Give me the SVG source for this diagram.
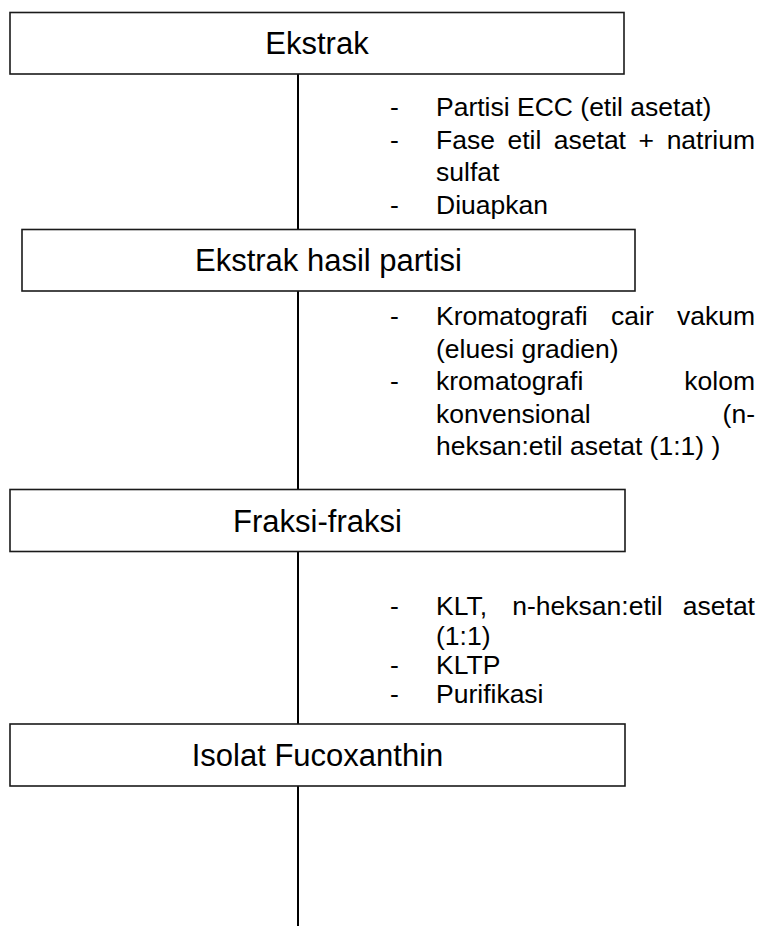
<svg xmlns="http://www.w3.org/2000/svg" width="761" height="926" viewBox="0 0 761 926">
<style>
.box{fill:#fff;stroke:#1a1a1a;stroke-width:1.6}
.lbl{font-family:"Liberation Sans",Arial,sans-serif;font-size:31px;fill:#000;text-anchor:middle}
.b{font-family:"Liberation Sans",Arial,sans-serif;font-size:26.5px;fill:#000}
.e{text-anchor:end}
.c{stroke:#000;stroke-width:2;fill:none}
</style>
<rect width="761" height="926" fill="#fff"/>
<g id="connectors">
<line class="c" x1="298" y1="74" x2="298" y2="229.5"/>
<line class="c" x1="298" y1="291" x2="298" y2="489.5"/>
<line class="c" x1="298" y1="551.5" x2="298" y2="724"/>
<line class="c" x1="298" y1="786" x2="298" y2="926"/>
</g>
<g id="node-ekstrak">
<rect class="box" x="10" y="12.5" width="614" height="61.5"/>
<text class="lbl" x="317" y="53.5">Ekstrak</text>
</g>
<g id="steps-1">
<text class="b" x="390" y="116">-</text>
<text class="b" x="436" y="116">Partisi ECC (etil asetat)</text>
<text class="b" x="390" y="148.5">-</text>
<text class="b" y="148.5"><tspan x="436">Fase</tspan><tspan x="507.4">etil</tspan><tspan x="553.8">asetat</tspan><tspan x="638.5">+</tspan></text>
<text class="b e" x="755" y="148.5">natrium</text>
<text class="b" x="436" y="181">sulfat</text>
<text class="b" x="390" y="213.5">-</text>
<text class="b" x="436" y="213.5">Diuapkan</text>
</g>
<g id="node-ekstrak-hasil-partisi">
<rect class="box" x="22" y="229.5" width="613" height="61.5"/>
<text class="lbl" x="328.5" y="270.5">Ekstrak hasil partisi</text>
</g>
<g id="steps-2">
<text class="b" x="390" y="325">-</text>
<text class="b" y="325"><tspan x="436">Kromatografi</tspan><tspan x="611">cair</tspan></text>
<text class="b e" x="755" y="325">vakum</text>
<text class="b" x="436" y="357.5">(eluesi gradien)</text>
<text class="b" x="390" y="390">-</text>
<text class="b" x="436" y="390">kromatografi</text>
<text class="b e" x="755" y="390">kolom</text>
<text class="b" x="436" y="422.5">konvensional</text>
<text class="b e" x="755" y="422.5">(n-</text>
<text class="b" x="436" y="455">heksan:etil asetat (1:1) )</text>
</g>
<g id="node-fraksi">
<rect class="box" x="10" y="489.5" width="615" height="62"/>
<text class="lbl" x="317.5" y="531.5">Fraksi-fraksi</text>
</g>
<g id="steps-3">
<text class="b" x="390" y="615">-</text>
<text class="b" y="615"><tspan x="436">KLT,</tspan><tspan x="512.3">n-heksan:etil</tspan></text>
<text class="b e" x="755" y="615">asetat</text>
<text class="b" x="436" y="644.5">(1:1)</text>
<text class="b" x="390" y="674">-</text>
<text class="b" x="436" y="674">KLTP</text>
<text class="b" x="390" y="703">-</text>
<text class="b" x="436" y="703">Purifikasi</text>
</g>
<g id="node-isolat">
<rect class="box" x="10" y="724" width="615" height="62"/>
<text class="lbl" x="317.5" y="765.5">Isolat Fucoxanthin</text>
</g>
</svg>
